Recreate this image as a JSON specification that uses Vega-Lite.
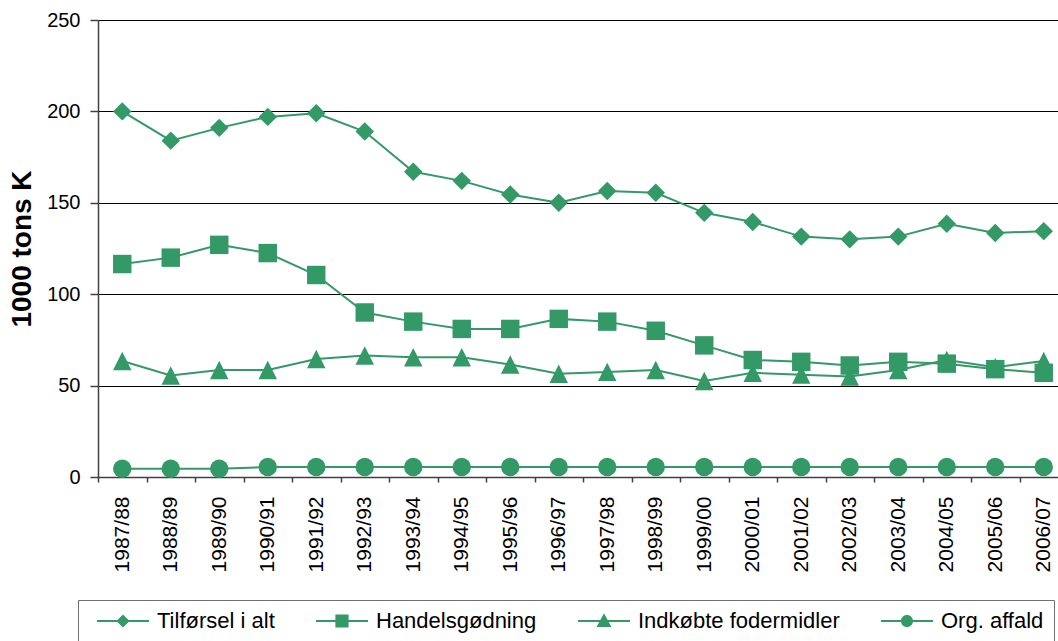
{
  "$schema": "https://vega.github.io/schema/vega-lite/v6.json",
  "autosize": {"type": "none"},
  "width": 960,
  "height": 457,
  "padding": {"left": 98, "top": 20, "right": 0, "bottom": 164},
  "background": "white",
  "config": {
    "view": {"stroke": null},
    "font": "Liberation Sans",
    "axis": {"labelFont": "Liberation Sans", "titleFont": "Liberation Sans", "labelColor": "#000", "titleColor": "#000"}
  },
  "data": {
    "values": [
      {"year": "1987/88", "series": "Tilførsel i alt", "value": 200},
      {"year": "1988/89", "series": "Tilførsel i alt", "value": 184},
      {"year": "1989/90", "series": "Tilførsel i alt", "value": 191},
      {"year": "1990/91", "series": "Tilførsel i alt", "value": 197},
      {"year": "1991/92", "series": "Tilførsel i alt", "value": 199},
      {"year": "1992/93", "series": "Tilførsel i alt", "value": 189},
      {"year": "1993/94", "series": "Tilførsel i alt", "value": 167},
      {"year": "1994/95", "series": "Tilførsel i alt", "value": 162},
      {"year": "1995/96", "series": "Tilførsel i alt", "value": 154.5},
      {"year": "1996/97", "series": "Tilførsel i alt", "value": 150},
      {"year": "1997/98", "series": "Tilførsel i alt", "value": 156.5},
      {"year": "1998/99", "series": "Tilførsel i alt", "value": 155.5},
      {"year": "1999/00", "series": "Tilførsel i alt", "value": 144.5},
      {"year": "2000/01", "series": "Tilførsel i alt", "value": 139.5},
      {"year": "2001/02", "series": "Tilførsel i alt", "value": 131.5},
      {"year": "2002/03", "series": "Tilførsel i alt", "value": 130},
      {"year": "2003/04", "series": "Tilførsel i alt", "value": 131.5},
      {"year": "2004/05", "series": "Tilførsel i alt", "value": 138.5},
      {"year": "2005/06", "series": "Tilførsel i alt", "value": 133.5},
      {"year": "2006/07", "series": "Tilførsel i alt", "value": 134.5},
      {"year": "1987/88", "series": "Handelsgødning", "value": 116.5},
      {"year": "1988/89", "series": "Handelsgødning", "value": 120},
      {"year": "1989/90", "series": "Handelsgødning", "value": 127},
      {"year": "1990/91", "series": "Handelsgødning", "value": 122.5},
      {"year": "1991/92", "series": "Handelsgødning", "value": 110.5},
      {"year": "1992/93", "series": "Handelsgødning", "value": 90},
      {"year": "1993/94", "series": "Handelsgødning", "value": 85},
      {"year": "1994/95", "series": "Handelsgødning", "value": 81},
      {"year": "1995/96", "series": "Handelsgødning", "value": 81},
      {"year": "1996/97", "series": "Handelsgødning", "value": 86.5},
      {"year": "1997/98", "series": "Handelsgødning", "value": 85},
      {"year": "1998/99", "series": "Handelsgødning", "value": 80},
      {"year": "1999/00", "series": "Handelsgødning", "value": 72},
      {"year": "2000/01", "series": "Handelsgødning", "value": 64},
      {"year": "2001/02", "series": "Handelsgødning", "value": 63},
      {"year": "2002/03", "series": "Handelsgødning", "value": 61},
      {"year": "2003/04", "series": "Handelsgødning", "value": 63},
      {"year": "2004/05", "series": "Handelsgødning", "value": 62},
      {"year": "2005/06", "series": "Handelsgødning", "value": 59},
      {"year": "2006/07", "series": "Handelsgødning", "value": 57},
      {"year": "1987/88", "series": "Indkøbte fodermidler", "value": 63.5},
      {"year": "1988/89", "series": "Indkøbte fodermidler", "value": 55.5},
      {"year": "1989/90", "series": "Indkøbte fodermidler", "value": 58.5},
      {"year": "1990/91", "series": "Indkøbte fodermidler", "value": 58.5},
      {"year": "1991/92", "series": "Indkøbte fodermidler", "value": 64.5},
      {"year": "1992/93", "series": "Indkøbte fodermidler", "value": 66.5},
      {"year": "1993/94", "series": "Indkøbte fodermidler", "value": 65.5},
      {"year": "1994/95", "series": "Indkøbte fodermidler", "value": 65.5},
      {"year": "1995/96", "series": "Indkøbte fodermidler", "value": 61.5},
      {"year": "1996/97", "series": "Indkøbte fodermidler", "value": 56.5},
      {"year": "1997/98", "series": "Indkøbte fodermidler", "value": 57.5},
      {"year": "1998/99", "series": "Indkøbte fodermidler", "value": 58.5},
      {"year": "1999/00", "series": "Indkøbte fodermidler", "value": 52.5},
      {"year": "2000/01", "series": "Indkøbte fodermidler", "value": 57},
      {"year": "2001/02", "series": "Indkøbte fodermidler", "value": 56},
      {"year": "2002/03", "series": "Indkøbte fodermidler", "value": 55},
      {"year": "2003/04", "series": "Indkøbte fodermidler", "value": 58.5},
      {"year": "2004/05", "series": "Indkøbte fodermidler", "value": 64},
      {"year": "2005/06", "series": "Indkøbte fodermidler", "value": 60},
      {"year": "2006/07", "series": "Indkøbte fodermidler", "value": 63.5},
      {"year": "1987/88", "series": "Org. affald", "value": 4.5},
      {"year": "1988/89", "series": "Org. affald", "value": 4.5},
      {"year": "1989/90", "series": "Org. affald", "value": 4.5},
      {"year": "1990/91", "series": "Org. affald", "value": 5.5},
      {"year": "1991/92", "series": "Org. affald", "value": 5.5},
      {"year": "1992/93", "series": "Org. affald", "value": 5.5},
      {"year": "1993/94", "series": "Org. affald", "value": 5.5},
      {"year": "1994/95", "series": "Org. affald", "value": 5.5},
      {"year": "1995/96", "series": "Org. affald", "value": 5.5},
      {"year": "1996/97", "series": "Org. affald", "value": 5.5},
      {"year": "1997/98", "series": "Org. affald", "value": 5.5},
      {"year": "1998/99", "series": "Org. affald", "value": 5.5},
      {"year": "1999/00", "series": "Org. affald", "value": 5.5},
      {"year": "2000/01", "series": "Org. affald", "value": 5.5},
      {"year": "2001/02", "series": "Org. affald", "value": 5.5},
      {"year": "2002/03", "series": "Org. affald", "value": 5.5},
      {"year": "2003/04", "series": "Org. affald", "value": 5.5},
      {"year": "2004/05", "series": "Org. affald", "value": 5.5},
      {"year": "2005/06", "series": "Org. affald", "value": 5.5},
      {"year": "2006/07", "series": "Org. affald", "value": 5.5}
    ]
  },
  "encoding": {
    "x": {
      "field": "year", "type": "ordinal", "sort": null,
      "scale": {"type": "band", "paddingInner": 0, "paddingOuter": 0, "range": [0, 970]},
      "axis": {
        "title": null, "labelAngle": -90, "labelFontSize": 21, "labelPadding": 14,
        "tickBand": "extent", "tickSize": 5, "tickColor": "#404040", "domainColor": "#404040",
        "domainWidth": 1.5, "tickWidth": 1.5, "grid": false
      }
    },
    "y": {
      "field": "value", "type": "quantitative",
      "scale": {"domain": [0, 250], "nice": false},
      "axis": {
        "title": "1000 tons K", "titleFontSize": 28, "titleFontWeight": "bold", "titlePadding": 10,
        "values": [0, 50, 100, 150, 200, 250], "labelFontSize": 20, "labelPadding": 10,
        "tickSize": 8, "tickColor": "#404040", "domainColor": "#404040", "domainWidth": 1.5, "tickWidth": 1.5,
        "grid": true, "gridColor": "#000", "gridWidth": 1, "gridOpacity": 1
      }
    }
  },
  "layer": [
    {
      "mark": {"type": "line", "color": "#339966", "strokeWidth": 2},
      "encoding": {"detail": {"field": "series", "type": "nominal"}}
    },
    {
      "mark": {"type": "point", "filled": true, "opacity": 1, "size": 340, "color": "#339966", "strokeWidth": 0},
      "encoding": {
        "shape": {
          "field": "series", "type": "nominal",
          "scale": {
            "domain": ["Tilførsel i alt", "Handelsgødning", "Indkøbte fodermidler", "Org. affald"],
            "range": ["diamond", "square", "M0,-1L1,1L-1,1Z", "circle"]
          },
          "legend": null
        }
      }
    },
    {
      "mark": {"type": "point", "filled": true, "opacity": 0, "size": 1, "color": "#339966"},
      "encoding": {
        "shape": {
          "field": "series", "type": "nominal",
          "scale": {
            "domain": ["Tilførsel i alt", "Handelsgødning", "Indkøbte fodermidler", "Org. affald"],
            "range": [
              "M-0.18,-0.09L4.55,-0.09L4.55,0.09L-0.18,0.09ZM2.18,-0.6L2.78,0L2.18,0.6L1.58,0Z",
              "M-0.18,-0.09L4.55,-0.09L4.55,0.09L-0.18,0.09ZM1.58,-0.6L2.78,-0.6L2.78,0.6L1.58,0.6Z",
              "M-0.18,-0.09L4.55,-0.09L4.55,0.09L-0.18,0.09ZM2.18,-0.7L2.86,0.55L1.5,0.55Z",
              "M-0.18,-0.09L4.55,-0.09L4.55,0.09L-0.18,0.09ZM2.73,0A0.55,0.55,0,1,1,1.63,0A0.55,0.55,0,1,1,2.73,0Z"
            ]
          },
          "legend": {
            "title": null, "orient": "none", "legendX": -20, "legendY": 580,
            "direction": "horizontal", "columns": 4, "padding": 10,
            "strokeColor": "#707070", "fillColor": "white",
            "symbolSize": 484, "symbolStrokeWidth": 0,
            "symbolFillColor": "#339966", "symbolStrokeColor": "#339966", "symbolOpacity": 1,
            "labelFont": "Liberation Sans", "labelFontSize": 22, "labelColor": "#000",
            "labelOffset": 47, "columnPadding": 32, "labelLimit": 400
          }
        }
      }
    }
  ],
  "resolve": {"scale": {"shape": "independent"}, "legend": {"shape": "independent"}}
}
